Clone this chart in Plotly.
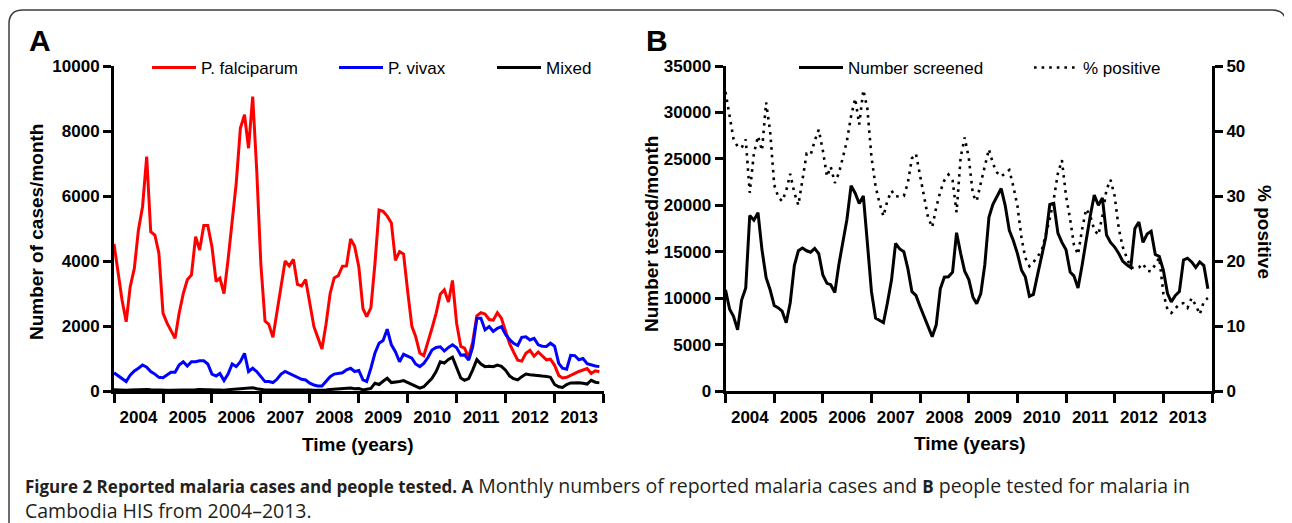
import pandas as pd
import plotly.graph_objects as go

W, H = 1292, 523
BODY = 8  # default page margin around the plot div

# monthly series, Jan 2004 - Dec 2013 (one row per year)
months = pd.date_range("2004-01-01", periods=120, freq="MS")

falciparum = [
    4525, 3620, 2800, 2130, 3210, 3780, 4950, 5670, 7210, 4900, 4800, 4240,
    2390, 2080, 1880, 1620, 2390, 3000, 3420, 3570, 4750, 4340, 5090, 5090,
    4440, 3370, 3470, 3000, 4030, 5160, 6390, 8080, 8500, 7470, 9060, 6800,
    3900, 2150, 2050, 1650, 2400, 3300, 4000, 3850, 4050, 3280, 3230, 3430,
    2700, 1980, 1650, 1290, 2050, 3000, 3480, 3550, 3840, 3850, 4680, 4450,
    3820, 2530, 2290, 2560, 3900, 5570, 5530, 5380, 5170, 4020, 4290, 4210,
    3050, 1990, 1680, 1170, 1090, 1560, 1930, 2390, 2980, 3110, 2740, 3400,
    2080, 1370, 1320, 1030, 1520, 2310, 2410, 2370, 2200, 2180, 2410, 2240,
    1870, 1450, 1200, 950, 920, 1160, 1250, 1070, 1200, 1080, 960, 980,
    790, 480, 400, 420, 490, 540, 600, 650, 690, 540, 620, 590,
]

vivax = [
    560, 460, 390, 290, 490, 615, 700, 800, 730, 600, 520, 420,
    410, 490, 575, 575, 800, 900, 770, 900, 900, 930, 930, 830,
    520, 460, 540, 320, 520, 830, 750, 900, 1160, 600, 700, 600,
    440, 290, 290, 260, 360, 520, 600, 540, 480, 440, 360, 340,
    240, 185, 155, 155, 290, 440, 520, 540, 560, 650, 700, 600,
    630, 340, 290, 700, 1160, 1470, 1550, 1900, 1420, 1210, 900, 1130,
    1060, 1010, 830, 750, 850, 1030, 1260, 1340, 1360, 1230, 1340, 1420,
    1330, 1100, 1110, 950, 1360, 2240, 2240, 1880, 1980, 1830, 1930, 1980,
    1740, 1580, 1470, 1400, 1650, 1670, 1570, 1620, 1420, 1380, 1370, 1470,
    1380, 850, 700, 670, 1100, 1090, 960, 1000, 840, 800, 770, 750,
]

mixed = [
    40, 30, 20, 20, 30, 40, 50, 60, 50, 40, 30, 30,
    20, 20, 20, 20, 30, 30, 40, 40, 40, 50, 40, 40,
    30, 30, 30, 20, 40, 50, 60, 80, 90, 80, 100, 70,
    40, 30, 30, 30, 40, 50, 50, 50, 50, 40, 40, 40,
    30, 20, 20, 20, 30, 50, 60, 60, 70, 80, 90, 70,
    80, 30, 50, 80, 240, 200, 300, 390, 260, 270, 290, 320,
    260, 220, 160, 90, 130, 280, 390, 600, 900, 860, 970, 1040,
    700, 400, 330, 380, 650, 970, 830, 750, 760, 750, 800, 760,
    640, 460, 380, 340, 440, 520, 500, 480, 460, 460, 450, 420,
    200, 130, 110, 200, 250, 255, 255, 240, 215, 330, 270, 250,
]

screened = [
    10900, 8800, 8050, 6600, 9800, 11100, 18900, 18400, 19200, 15200, 12200, 10900,
    9200, 8950, 8600, 7350, 9500, 13500, 15100, 15400, 15100, 14950, 15350, 14800,
    12500, 11600, 11450, 10600, 13600, 16100, 18500, 22100, 21300, 20200, 21000, 16000,
    10700, 7850, 7600, 7350, 9500, 12000, 15900, 15300, 15000, 13200, 10700, 10300,
    9100, 7950, 7000, 5850, 7100, 11000, 12250, 12300, 12800, 17050, 14800, 12900,
    12000, 10100, 9400, 10500, 13600, 18700, 20100, 21000, 21800, 20000, 17300, 16200,
    14800, 13000, 12300, 10200, 10400, 12500, 14500, 16500, 20100, 20200, 17000, 16000,
    15200, 12800, 12400, 11100, 13500, 16300, 18800, 21100, 20000, 20800, 16800, 16000,
    15500, 14800, 14000, 13600, 13300, 17500, 18200, 16000, 16900, 17200, 14700, 14500,
    13000, 10500, 9600, 10300, 10700, 14100, 14300, 13900, 13300, 13900, 13500, 11000,
]

pct_positive = [
    46, 42.5, 38.8, 37.6, 37.4, 38.7, 30.5, 36.5, 39.2, 37, 44.4, 40,
    31.7, 29.8, 29.2, 30.8, 33.4, 30.5, 28.6, 32.5, 36.5, 36.3, 38.5, 40.2,
    37, 33, 34.5, 32, 33.5, 36, 38.5, 42.3, 45, 41, 46.3, 43.5,
    36, 31.5, 29, 26.9, 29.3, 30.8, 29.9, 30, 30, 32, 35.8, 36.5,
    33, 29.5, 26.7, 25.2, 28.2, 30.7, 32.4, 33.3, 32.4, 27.5, 36, 39,
    35.8, 30.2, 29.2, 32, 34.5, 37.2, 35, 33.6, 33, 33.5, 34, 31.5,
    28.5, 23.5, 20.5, 19.2, 19.8, 20.7, 21.5, 24, 26.5, 29.5, 33.5, 35.5,
    30, 26.4, 22.5, 21, 24.8, 28, 27, 24.8, 24, 27, 31, 32.5,
    30, 25, 22.2, 20.5, 19, 18.9, 19, 19.6, 18.5, 18.4, 19.5, 20.5,
    15, 12.5, 12, 12.8, 13.4, 13.5, 12.8, 14.3, 13.2, 11.8, 13.8, 14.3,
]


# page pixel -> paper fraction (the div sits BODY px from the page corner)
def px_x(v):
    return (v - BODY) / W


def px_y(v):
    return 1 - (v - BODY) / H


FONT = "Liberation Sans, Arial, sans-serif"
bold = dict(family=FONT, size=17, color="black", weight="bold")

fig = go.Figure()

fig.add_trace(go.Scatter(x=months, y=falciparum, name="P. falciparum", mode="lines",
                         line=dict(color="#ff0000", width=3), xaxis="x", yaxis="y",
                         legend="legend"))
fig.add_trace(go.Scatter(x=months, y=vivax, name="P. vivax", mode="lines",
                         line=dict(color="#0000ff", width=3), xaxis="x", yaxis="y",
                         legend="legend2"))
fig.add_trace(go.Scatter(x=months, y=mixed, name="Mixed", mode="lines",
                         line=dict(color="black", width=3), xaxis="x", yaxis="y",
                         legend="legend3"))
fig.add_trace(go.Scatter(x=months, y=screened, name="Number screened", mode="lines",
                         line=dict(color="black", width=3), xaxis="x2", yaxis="y2",
                         legend="legend4"))
fig.add_trace(go.Scatter(x=months, y=pct_positive, name="% positive", mode="lines",
                         line=dict(color="black", width=2.6, dash="2.6px,5px"),
                         xaxis="x2", yaxis="y3", legend="legend5"))

ydom = [px_y(391), px_y(66)]

xaxis_style = dict(
    type="date", range=["2004-01-01", "2014-01-01"], tick0="2004-01-01", dtick="M12",
    tickformat="%Y", ticklabelmode="period", ticks="outside", ticklen=9, tickwidth=3,
    tickcolor="black", showline=True, linewidth=3, linecolor="black",
    showgrid=False, zeroline=False, tickfont=bold,
)
yaxis_style = dict(
    ticks="outside", ticklen=8, tickwidth=3, tickcolor="black", showline=True,
    linewidth=3, linecolor="black", showgrid=False, zeroline=False, tickfont=bold,
    tickformat="d",
)

legend_style = dict(orientation="h", yanchor="middle", y=px_y(68), xanchor="left",
                    bgcolor="rgba(0,0,0,0)", itemwidth=44,
                    font=dict(family=FONT, size=17, color="black"))

fig.update_layout(
    width=W, height=H,
    margin=dict(l=0, r=0, t=0, b=0, autoexpand=False),
    plot_bgcolor="white", paper_bgcolor="white",
    font=dict(family=FONT, color="black"),
    xaxis=dict(domain=[px_x(114), px_x(603.5)], anchor="y", **xaxis_style),
    yaxis=dict(domain=ydom, anchor="x", range=[0, 10000], dtick=2000, **yaxis_style),
    xaxis2=dict(domain=[px_x(725.5), px_x(1212)], anchor="y2", **xaxis_style),
    yaxis2=dict(domain=ydom, anchor="x2", range=[0, 35000], dtick=5000, **yaxis_style),
    yaxis3=dict(overlaying="y2", anchor="x2", side="right", range=[0, 50], dtick=10,
                **yaxis_style),
    legend=dict(x=px_x(147), **legend_style),
    legend2=dict(x=px_x(334), **legend_style),
    legend3=dict(x=px_x(492), **legend_style),
    legend4=dict(x=px_x(794), **legend_style),
    legend5=dict(x=px_x(1029), **legend_style),
    showlegend=True,
)

title_font = dict(family=FONT, size=19, color="black", weight="bold")


def note(text, x, y, font, angle=0, xanchor="center", yanchor="middle"):
    fig.add_annotation(text=text, x=px_x(x), y=px_y(y), xref="paper", yref="paper",
                       showarrow=False, textangle=angle, font=font,
                       xanchor=xanchor, yanchor=yanchor)


note("A", 40, 40, dict(family=FONT, size=30, color="black", weight="bold"))
note("B", 657, 40, dict(family=FONT, size=30, color="black", weight="bold"))
note("Number of cases/month", 37, 232, title_font, angle=-90)
note("Time (years)", 358, 444, title_font)
note("Number tested/month", 652, 234, title_font, angle=-90)
note("Time (years)", 970, 443, title_font)
note("% positive", 1264, 232, title_font, angle=90)

cap_font = dict(family="Open Sans, sans-serif", size=19.5, color="#231f20")
cap_bold = '<span style="font-size:17px"><b>{}</b></span>'
note(cap_bold.format("Figure 2 Reported malaria cases and people tested. A")
     + " Monthly numbers of reported malaria cases and "
     + cap_bold.format("B") + " people tested for malaria in",
     23, 485, cap_font, xanchor="left")
note("Cambodia HIS from 2004–2013.", 23, 510, cap_font, xanchor="left")

# rounded frame around the figure (open at the bottom)
x0, x1, y0, r = px_x(9), px_x(1286), px_y(10), 14
rx, ry = r / W, r / H
frame = (f"M {x0},{px_y(530)} L {x0},{y0 - ry} Q {x0},{y0} {x0 + rx},{y0} "
         f"L {x1 - rx},{y0} Q {x1},{y0} {x1},{y0 - ry} L {x1},{px_y(440)}")
fig.add_shape(type="path", path=frame, xref="paper", yref="paper",
              line=dict(color="#3c3c3c", width=1.5))

fig.write_html("out.html")
